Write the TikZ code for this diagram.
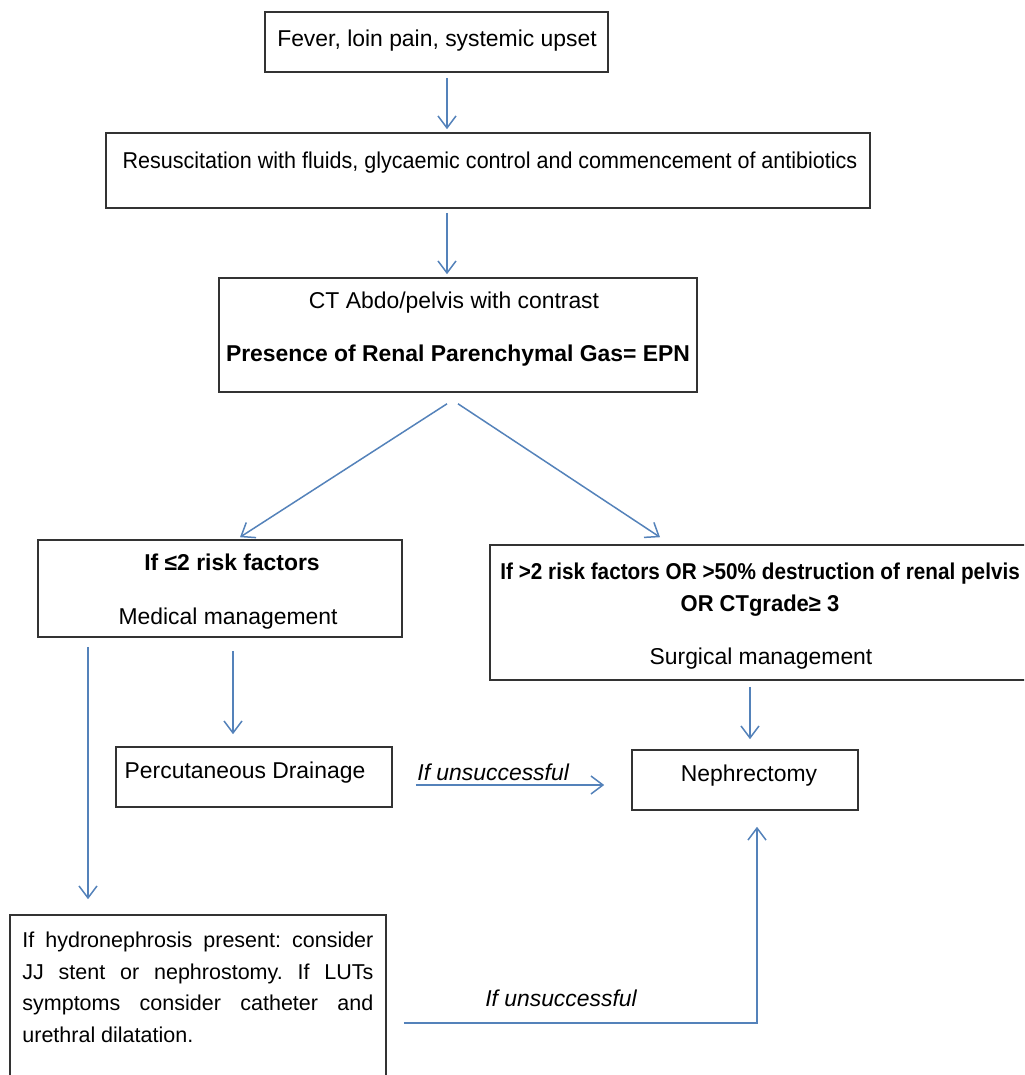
\documentclass[tikz,border=0pt]{standalone}
\usepackage{fontspec}
\setmainfont{Liberation Sans}
\usepackage{tikz}
\usetikzlibrary{arrows.meta,positioning,fit,calc}
\definecolor{flowblue}{RGB}{84,130,186}
\frenchspacing

\begin{document}
\begin{tikzpicture}[x=0.5pt,y=-0.5pt,
    flow box/.style={rectangle, draw=black!80, line width=0.8pt, inner sep=0pt},
    flow text/.style={anchor=base, inner sep=0pt, font=\fontsize{11.45}{15.75}\selectfont},
    flow arrow/.style={draw=flowblue, line width=0.75pt, -{Straight Barb[length=6pt,width=9pt]}}]
    \useasboundingbox (0,0) rectangle (1024,1075);
    \clip (0,0) rectangle (1024,1075);

    % boxes
    \node[flow box, fit={(265,12) (608,72)}] (fever) {};
    \node[flow box, fit={(106,133) (870,208)}] (resus) {};
    \node[flow box, fit={(219,278) (697,392)}] (ctscan) {};
    \node[flow box, fit={(38,540) (402,637)}] (medmgmt) {};
    \node[flow box, fit={(490,545) (1034,680)}] (surgmgmt) {};
    \node[flow box, fit={(116,747) (392,807)}] (perc) {};
    \node[flow box, fit={(632,750) (858,810)}] (nephr) {};
    \node[flow box, fit={(10,915) (386,1090)}] (hydro) {};

    % texts
    \node[flow text] (fevertxt) at (437,47) {Fever, loin pain, systemic upset};
    \node[flow text] (resustxt) at (490,169) {\scalebox{0.94}[1]{Resuscitation with fluids, glycaemic control and commencement of antibiotics}};
    \node[flow text] (cttxt) at (454,308) {CT Abdo/pelvis with contrast};
    \node[flow text, font=\fontsize{11.45}{15.75}\selectfont\bfseries] (epntxt) at (458,361) {Presence of Renal Parenchymal Gas= EPN};
    \node[flow text, font=\fontsize{11.45}{15.75}\selectfont\bfseries] (lowrisk) at (232,570) {If ≤2 risk factors};
    \node[flow text] (medtxt) at (228,624) {Medical management};
    \node[flow text, anchor=base west, font=\fontsize{11.45}{15.75}\selectfont\bfseries] (highrisk) at (500,579) {\scalebox{0.905}[1]{If >2 risk factors OR >50\% destruction of renal pelvis}};
    \node[flow text, font=\fontsize{11.45}{15.75}\selectfont\bfseries] (ctgrade) at (760,611) {\scalebox{0.96}[1]{OR CTgrade≥ 3}};
    \node[flow text] (surgtxt) at (761,664) {Surgical management};
    \node[flow text] (perctxt) at (245,778) {Percutaneous Drainage};
    \node[flow text] (nephrtxt) at (749,781) {Nephrectomy};
    \node[flow text, anchor=north west, text width=175.5pt, align=justify, font=\fontsize{10.75}{15.75}\selectfont] (hydrotxt) at (22,932)
        {If hydronephrosis present: consider\linebreak JJ stent or nephrostomy. If LUTs\linebreak symptoms consider catheter and\linebreak urethral dilatation.};
    \node[flow text, anchor=base west, font=\fontsize{11.45}{15.75}\selectfont\itshape] (unsuccA) at (417,780) {If unsuccessful};
    \node[flow text, font=\fontsize{11.45}{15.75}\selectfont\itshape] (unsuccB) at (561,1006) {If unsuccessful};

    % arrows
    \coordinate (colA) at (447,0);
    \coordinate (colB) at (233,0);
    \coordinate (colC) at (750,0);
    \coordinate (colD) at (88,0);
    \coordinate (rowA) at (0,785);
    \coordinate (turn) at (757,1023);
    \draw[flow arrow, shorten <=2.5pt, shorten >=1.5pt] (fever.south -| colA) -- (resus.north -| colA);
    \draw[flow arrow, shorten <=2pt, shorten >=1.5pt] (resus.south -| colA) -- (ctscan.north -| colA);
    \draw[flow arrow] ([xshift=-5.5pt,yshift=-5.5pt]ctscan.south) -- ([xshift=10pt,yshift=1pt]medmgmt.north);
    \draw[flow arrow] ([yshift=-5.5pt]ctscan.south) -- ([xshift=-51pt,yshift=3.5pt]surgmgmt.north);
    \draw[flow arrow, shorten <=6.5pt, shorten >=6pt] (medmgmt.south -| colB) -- (perc.north -| colB);
    \draw[flow arrow, shorten <=3pt, shorten >=5pt] (surgmgmt.south -| colC) -- (nephr.north -| colC);
    \draw[flow arrow, shorten <=4.5pt, shorten >=7.5pt] (medmgmt.south -| colD) -- (hydro.north -| colD);
    \draw[flow arrow, shorten <=11.5pt, shorten >=13.5pt] (perc.east |- rowA) -- (nephr.west |- rowA);
    \draw[flow arrow, shorten <=8.5pt, shorten >=8pt] (hydro.east |- turn) -- (turn) -- (nephr.south -| turn);
\end{tikzpicture}
\end{document}
